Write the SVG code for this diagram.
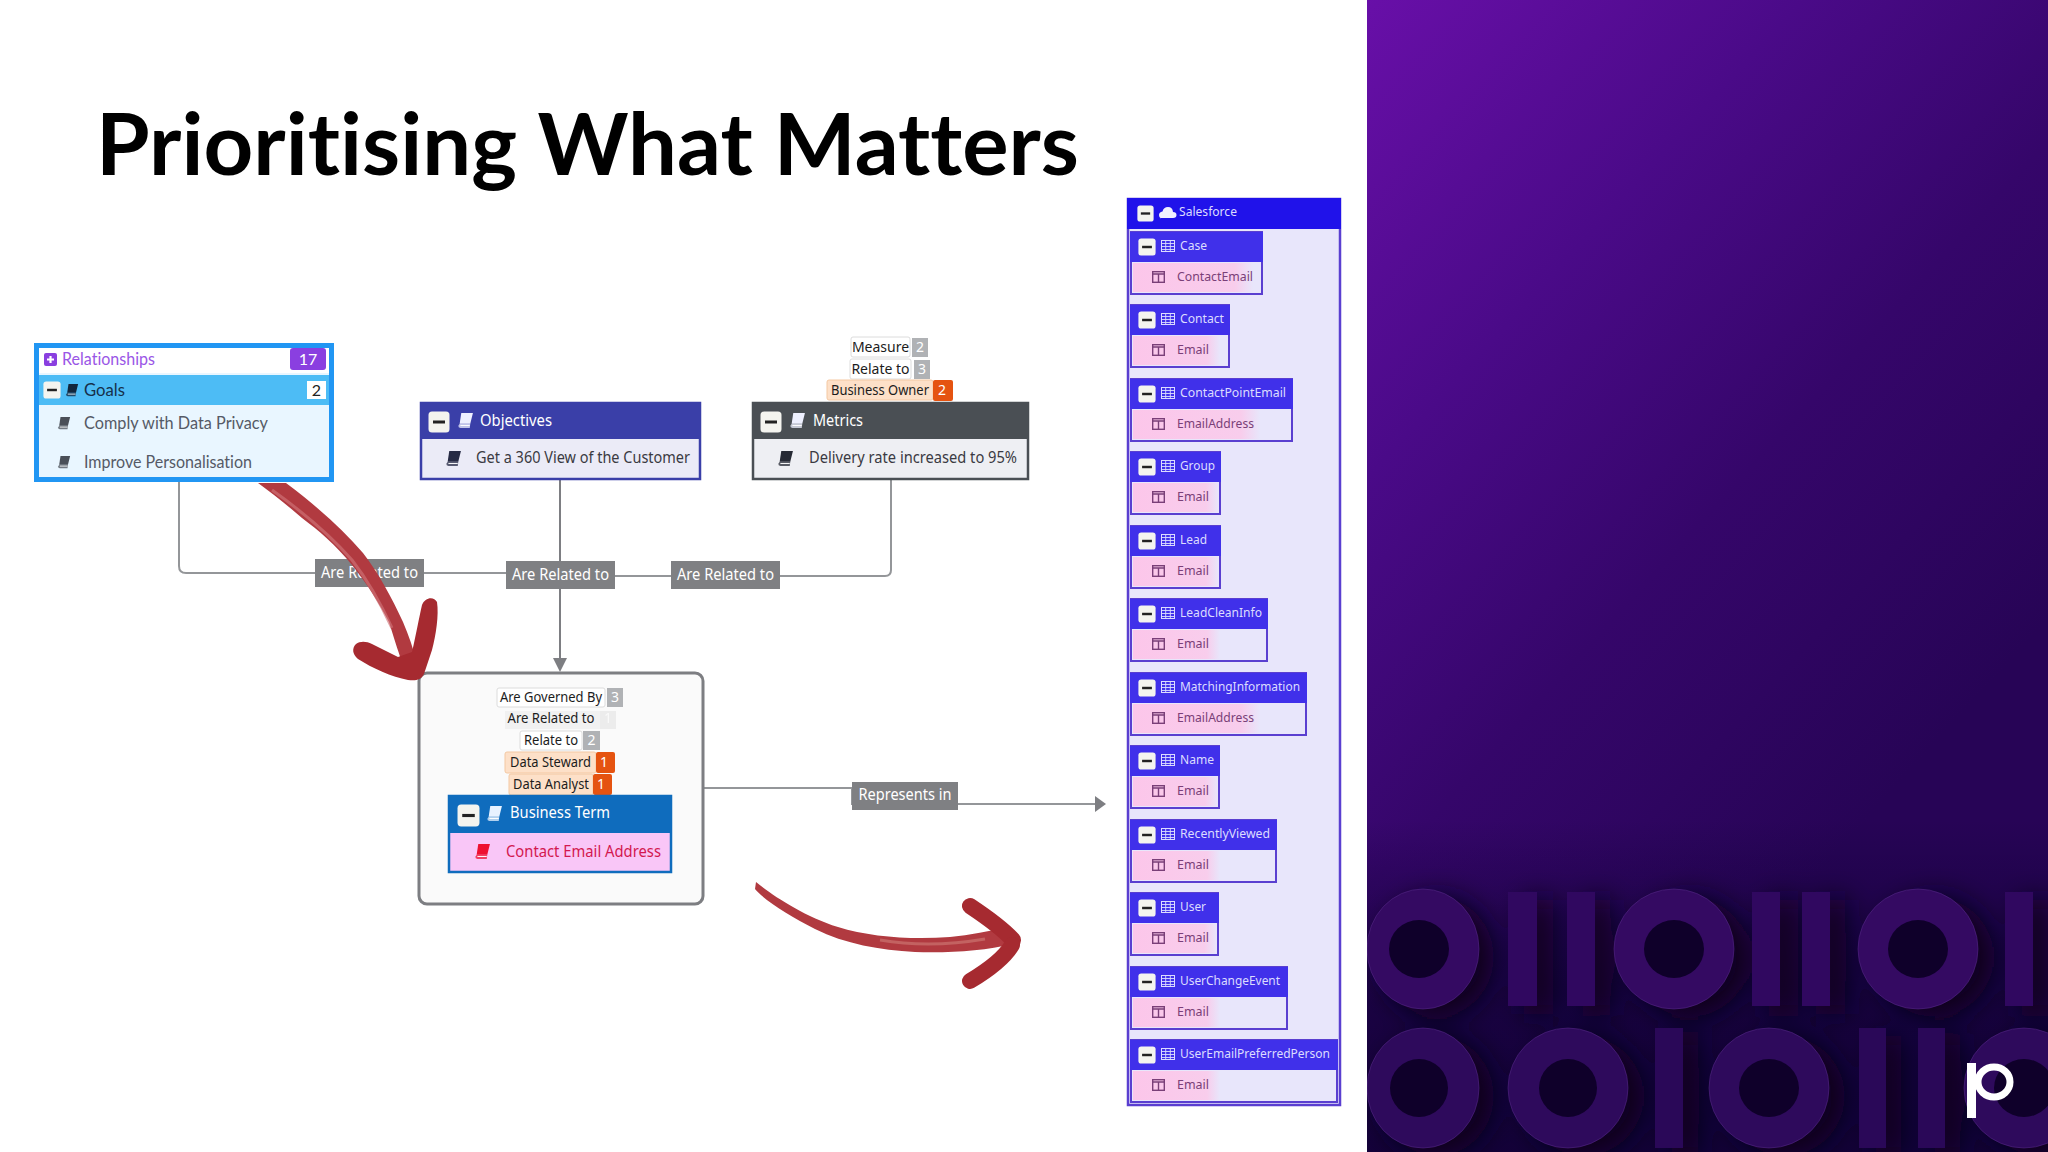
<svg xmlns="http://www.w3.org/2000/svg" width="2048" height="1152" viewBox="0 0 2048 1152">
<style>
text{font-family:"Noto Sans","Liberation Sans",sans-serif;}
.geo{font-family:Lato,"Noto Sans",sans-serif;font-variant-ligatures:none;}
.title{font-size:86px;font-weight:700;fill:#000;}
.line{fill:none;stroke:#949699;stroke-width:2;}
.darkline{fill:none;stroke:#7d7e82;stroke-width:2;}
.lab{fill:#7f8083;}
.labt{font-size:15.5px;fill:#fff;text-anchor:middle;}
.tag{fill:#fff;stroke:#dcdcdc;stroke-width:1;}
.tago{fill:#fde0c8;stroke:#f4c8a2;stroke-width:1;}
.n{fill:#b0b2b5;}
.no{fill:#e55310;}
.tt{font-size:14px;fill:#1c1c1c;text-anchor:middle;}
.nt{font-size:14px;fill:#fff;text-anchor:middle;}
.ht{font-size:15.5px;fill:#fff;}
.bt{font-size:15.5px;fill:#3a3a42;}
.sf-box{fill:#e8e6fb;stroke:#5a3fd0;stroke-width:2;}
.sf-head{fill:#4030ea;}
.sf-h{font-size:12px;fill:#dcdcff;}
.sf-b{font-size:12px;fill:#7a3f78;}
.ring{fill:#340a62;stroke:#5a2c8c;stroke-width:1;stroke-opacity:.5;}
.ring2{fill:#2e0a5c;stroke:#5a2c8c;stroke-width:1;stroke-opacity:.5;}
.bar{fill:#300860;}
.bar2{fill:#2a0858;}
.hole{fill:#0f002a;}
.red{fill:#b13a40;}
.head{fill:#a62a30;}
.reds{fill:none;stroke:#a62a30;stroke-linecap:round;stroke-linejoin:round;}
</style>
<defs>
<linearGradient id="bg" gradientUnits="userSpaceOnUse" x1="1367" y1="0" x2="2048" y2="620">
<stop offset="0" stop-color="#680fa8"/><stop offset="0.35" stop-color="#4a0a88"/><stop offset="0.65" stop-color="#35066a"/><stop offset="1" stop-color="#270456"/>
</linearGradient>
<linearGradient id="bgb" gradientUnits="userSpaceOnUse" x1="0" y1="820" x2="0" y2="1152">
<stop offset="0" stop-color="#0d0030" stop-opacity="0"/><stop offset="0.55" stop-color="#0d0030" stop-opacity="0.65"/><stop offset="1" stop-color="#0d0030" stop-opacity="0.8"/>
</linearGradient>
<linearGradient id="pink" x1="0" y1="0" x2="1" y2="0">
<stop offset="0" stop-color="#fcc6ea"/><stop offset="0.85" stop-color="#f8cdec"/><stop offset="1" stop-color="#f8cdec" stop-opacity="0"/>
</linearGradient>
<filter id="blur" x="-40%" y="-20%" width="200%" height="140%"><feGaussianBlur stdDeviation="14"/></filter>
<clipPath id="pc"><rect x="1367" y="0" width="681" height="1152"/></clipPath>
<symbol id="minus" viewBox="0 0 22 22"><rect x="0.5" y="0.5" width="21" height="21" rx="3.5" fill="#f4f4ef"/><rect x="5" y="9.5" width="12" height="3" fill="#222"/></symbol>
<symbol id="book" viewBox="0 0 16 16"><path d="M4 1H15L12.5 11H2.5Z" fill="currentColor"/><path d="M2.5 11H12.5L12 15H3.2Q1 15 1.3 13Z" fill="currentColor" opacity=".75"/><path d="M3.2 12.7H12" stroke="#fff" stroke-width=".9"/></symbol>
<symbol id="table" viewBox="0 0 14 12"><rect x="0.5" y="0.5" width="13" height="11" fill="none" stroke="#dcdcff" stroke-width="1"/><path d="M0 3.5H14M0 6.5H14M0 9.5H14M4.7 0V12M9.3 0V12" stroke="#dcdcff" stroke-width=".9"/></symbol>
<symbol id="col" viewBox="0 0 13 12"><rect x="0.7" y="0.7" width="11.6" height="10.6" fill="none" stroke="#7a3f78" stroke-width="1.4"/><path d="M0 3H13M6.5 3V12" stroke="#7a3f78" stroke-width="1.4"/></symbol>
</defs>

<rect width="2048" height="1152" fill="#ffffff"/>

<g id="panel" clip-path="url(#pc)">
<rect x="1367" y="0" width="681" height="1152" fill="url(#bg)"/>
<rect x="1367" y="820" width="681" height="332" fill="url(#bgb)"/>
<g filter="url(#blur)" fill="#08001e" transform="translate(16,8)">
<ellipse cx="1421" cy="949" rx="57" ry="60"/><rect x="1508" y="892" width="29" height="114"/><rect x="1567" y="892" width="28" height="114"/><ellipse cx="1674" cy="949" rx="60" ry="60"/><rect x="1752" y="892" width="28" height="114"/><rect x="1802" y="892" width="28" height="114"/><ellipse cx="1918" cy="949" rx="60" ry="60"/><rect x="2005" y="892" width="28" height="114"/>
<ellipse cx="1421" cy="1088" rx="57" ry="60"/><ellipse cx="1568" cy="1088" rx="60" ry="60"/><rect x="1655" y="1028" width="28" height="120"/><ellipse cx="1769" cy="1088" rx="60" ry="60"/><rect x="1859" y="1028" width="27" height="120"/><rect x="1918" y="1028" width="27" height="120"/><ellipse cx="2024" cy="1088" rx="60" ry="60"/>
</g>
<ellipse class="ring" cx="1423" cy="949" rx="56" ry="60"/><ellipse class="hole" cx="1419" cy="949" rx="30" ry="29"/>
<rect class="bar" x="1508" y="892" width="29" height="114"/><rect class="bar" x="1567" y="892" width="28" height="114"/>
<ellipse class="ring" cx="1674" cy="949" rx="60" ry="60"/><ellipse class="hole" cx="1674" cy="949" rx="30" ry="29"/>
<rect class="bar" x="1752" y="892" width="28" height="114"/><rect class="bar" x="1802" y="892" width="28" height="114"/>
<ellipse class="ring" cx="1918" cy="949" rx="60" ry="60"/><ellipse class="hole" cx="1918" cy="949" rx="30" ry="29"/>
<rect class="bar" x="2005" y="892" width="28" height="114"/>
<ellipse class="ring2" cx="1423" cy="1088" rx="56" ry="60"/><ellipse class="hole" cx="1419" cy="1088" rx="29" ry="29"/>
<ellipse class="ring2" cx="1568" cy="1088" rx="60" ry="60"/><ellipse class="hole" cx="1568" cy="1088" rx="29" ry="29"/>
<rect class="bar2" x="1655" y="1028" width="28" height="120"/>
<ellipse class="ring2" cx="1769" cy="1088" rx="60" ry="60"/><ellipse class="hole" cx="1769" cy="1088" rx="30" ry="29"/>
<rect class="bar2" x="1859" y="1028" width="27" height="120"/><rect class="bar2" x="1918" y="1028" width="27" height="120"/>
<ellipse class="ring2" cx="2024" cy="1088" rx="60" ry="60"/><ellipse class="hole" cx="2024" cy="1088" rx="30" ry="29"/>
<g id="logo"><rect x="1967" y="1063" width="9" height="55" fill="#fff"/><ellipse cx="1994" cy="1082" rx="16" ry="15" fill="none" stroke="#fff" stroke-width="7"/></g>
</g>

<text class="title geo" x="96" y="175" textLength="983" lengthAdjust="spacingAndGlyphs">Prioritising What Matters</text>

<g id="connectors">
<path class="line" d="M179 482V566Q179 573 186 573H506"/>
<path class="line" d="M615 576H885Q891 576 891 570V480"/>
<path class="darkline" d="M560 480V660"/>
<path d="M553 658H567L560 672Z" fill="#7d7e82"/>
<path class="line" d="M703 788H852V804H1096"/>
<path d="M1095 796L1106 804L1095 812Z" fill="#7d7e82"/>
<g id="label-1"><rect class="lab" x="315" y="559" width="109" height="28"/><text class="labt" x="369.500" y="577.500" textLength="97" lengthAdjust="spacingAndGlyphs">Are Related to</text></g>
<g id="label-2"><rect class="lab" x="506" y="561" width="109" height="28"/><text class="labt" x="560.500" y="579.500" textLength="97" lengthAdjust="spacingAndGlyphs">Are Related to</text></g>
<g id="label-3"><rect class="lab" x="671" y="561" width="109" height="28"/><text class="labt" x="725.500" y="579.500" textLength="97" lengthAdjust="spacingAndGlyphs">Are Related to</text></g>
<g id="label-4"><rect class="lab" x="852" y="782" width="106" height="28"/><text class="labt" x="905" y="800" textLength="93" lengthAdjust="spacingAndGlyphs">Represents in</text></g>
</g>

<g id="goals">
<rect x="36.500" y="345.500" width="295" height="134" fill="#e9f6ff" stroke="#2196f3" stroke-width="5"/>
<rect x="39" y="348" width="290" height="25" fill="#fff"/>
<rect x="39" y="375" width="290" height="30" fill="#4dbcf5"/>
<rect x="44" y="353" width="13" height="13" rx="2" fill="#8a3fe0"/><path d="M47 359.500H54M50.500 356V363" stroke="#fff" stroke-width="2.200"/>
<text class="geo" x="62" y="365" font-size="17" fill="#9a56e6" textLength="93" lengthAdjust="spacingAndGlyphs">Relationships</text>
<rect x="290" y="348" width="36" height="22" rx="3" fill="#8a3fe0"/><text class="geo" x="308" y="365" font-size="16" fill="#fff" text-anchor="middle">17</text>
<use href="#minus" x="43" y="381" width="18" height="18"/>
<use href="#book" x="65" y="383" width="14" height="14" color="#12263c"/>
<text class="geo" x="84" y="395.500" font-size="17" fill="#16304a" textLength="41" lengthAdjust="spacingAndGlyphs">Goals</text>
<rect x="307" y="381" width="19" height="18" fill="#fff"/><text class="geo" x="316.500" y="396" font-size="16" fill="#222" text-anchor="middle">2</text>
<use href="#book" x="57" y="416" width="14" height="14" color="#4a4f58"/>
<text class="geo" x="84" y="428.500" font-size="17" fill="#555a66" textLength="184" lengthAdjust="spacingAndGlyphs">Comply with Data Privacy</text>
<use href="#book" x="57" y="455" width="14" height="14" color="#4a4f58"/>
<text class="geo" x="84" y="467.500" font-size="17" fill="#555a66" textLength="168" lengthAdjust="spacingAndGlyphs">Improve Personalisation</text>
</g>

<g id="objectives">
<rect x="421" y="403" width="279" height="76" fill="#ebebf7" stroke="#3a3fa8" stroke-width="2.500"/>
<rect x="420" y="402" width="281" height="37" fill="#3a3fa8"/>
<use href="#minus" x="428" y="411" width="22" height="22"/>
<use href="#book" x="457" y="412" width="17" height="17" color="#eef0ff"/>
<text class="ht" x="480" y="426" textLength="72" lengthAdjust="spacingAndGlyphs">Objectives</text>
<use href="#book" x="445" y="450" width="17" height="17" color="#262a44"/>
<text class="bt" x="476" y="463" textLength="214" lengthAdjust="spacingAndGlyphs">Get a 360 View of the Customer</text>
</g>

<g id="metrics">
<rect x="753" y="403" width="275" height="76" fill="#eeeff3" stroke="#4a4f54" stroke-width="2.500"/>
<rect x="752" y="402" width="277" height="37" fill="#4a4f54"/>
<use href="#minus" x="760" y="411" width="22" height="22"/>
<use href="#book" x="789" y="412" width="17" height="17" color="#eef0ff"/>
<text class="ht" x="813" y="426" textLength="50" lengthAdjust="spacingAndGlyphs">Metrics</text>
<use href="#book" x="777" y="450" width="17" height="17" color="#262a34"/>
<text class="bt" x="809" y="463" textLength="208" lengthAdjust="spacingAndGlyphs">Delivery rate increased to 95%</text>
<rect class="tag" x="851" y="337" width="59" height="20" rx="2"/><text class="tt" x="880.500" y="352">Measure</text>
<rect class="n" x="912" y="338" width="16" height="19"/><text class="nt" x="920" y="352">2</text>
<rect class="tag" x="850" y="359" width="61" height="20" rx="2"/><text class="tt" x="880.500" y="374">Relate to</text>
<rect class="n" x="914" y="360" width="16" height="19"/><text class="nt" x="922" y="374">3</text>
<rect class="tago" x="827" y="380" width="106" height="20" rx="2"/><text class="tt" x="880" y="394.500" textLength="98" lengthAdjust="spacingAndGlyphs">Business Owner</text>
<rect class="no" x="933" y="380" width="20" height="21" rx="2"/><text class="nt" x="942" y="395">2</text>
</g>

<g id="business-term">
<rect x="419" y="673" width="284" height="231" rx="8" fill="#fafafa" stroke="#7d7e82" stroke-width="3"/>
<rect class="tag" x="497" y="688" width="108" height="19" rx="2"/><text class="tt" x="551" y="702" textLength="102" lengthAdjust="spacingAndGlyphs">Are Governed By</text>
<rect class="n" x="607" y="688" width="16" height="19"/><text class="nt" x="615" y="702">3</text>
<rect x="505" y="711" width="95" height="18" fill="#f1f1f1"/><text class="tt" x="551" y="723" textLength="87" lengthAdjust="spacingAndGlyphs">Are Related to</text>
<rect x="600" y="711" width="16" height="18" fill="#ececec"/><text class="nt" x="608" y="723" opacity=".7">1</text>
<rect class="tag" x="520" y="731" width="62" height="19" rx="2"/><text class="tt" x="551" y="745" textLength="54" lengthAdjust="spacingAndGlyphs">Relate to</text>
<rect class="n" x="583" y="731" width="17" height="19"/><text class="nt" x="591.500" y="745">2</text>
<rect class="tago" x="505" y="752" width="91" height="21" rx="2"/><text class="tt" x="550.500" y="767" textLength="81" lengthAdjust="spacingAndGlyphs">Data Steward</text>
<rect class="no" x="596" y="752" width="19" height="21" rx="2"/><text class="nt" x="604" y="767">1</text>
<rect class="tago" x="509" y="774" width="84" height="21" rx="2"/><text class="tt" x="551" y="789" textLength="76" lengthAdjust="spacingAndGlyphs">Data Analyst</text>
<rect class="no" x="593" y="774" width="19" height="21" rx="2"/><text class="nt" x="601" y="789">1</text>
<rect x="449" y="796" width="222" height="76" fill="#f9c6f7" stroke="#0f6cbd" stroke-width="2.500"/>
<rect x="448" y="795" width="224" height="38" fill="#0f6cbd"/>
<use href="#minus" x="457" y="804" width="23" height="23"/>
<use href="#book" x="486" y="805" width="17" height="17" color="#e8f2ff"/>
<text class="ht" x="510" y="818" textLength="100" lengthAdjust="spacingAndGlyphs">Business Term</text>
<use href="#book" x="474" y="843" width="17" height="17" color="#ee1030"/>
<text x="506" y="857" font-size="15.500" fill="#d3184f" textLength="155" lengthAdjust="spacingAndGlyphs">Contact Email Address</text>
</g>

<g id="salesforce">
<rect x="1128" y="199" width="212" height="906" fill="#e8e6fb" stroke="#5a3fd0" stroke-width="2.500"/>
<rect x="1127" y="198" width="214" height="31" fill="#2012ea"/>
<use href="#minus" x="1137" y="205" width="17" height="17"/>
<path d="M1161 218h12q3.500 0 3.500-3t-3.500-3q-.5-5-5-5t-5.500 4.500q-3.500 .5-3.500 3.500t2 3.500Z" fill="#f0f0ff"/>
<text class="sf-h" x="1179" y="216" textLength="58" lengthAdjust="spacingAndGlyphs">Salesforce</text>

<g id="sf-case"><rect class="sf-box" x="1131" y="232" width="131" height="62"/><rect class="sf-head" x="1130" y="232" width="133" height="30"/><rect x="1133" y="263" width="120" height="29" fill="url(#pink)"/><use href="#minus" x="1138" y="238" width="18" height="18"/><use href="#table" x="1161" y="240" width="14" height="12"/><text class="sf-h" x="1180" y="250" textLength="27" lengthAdjust="spacingAndGlyphs">Case</text><use href="#col" x="1152" y="271" width="13" height="12"/><text class="sf-b" x="1177" y="281" textLength="76" lengthAdjust="spacingAndGlyphs">ContactEmail</text></g>

<g id="sf-contact"><rect class="sf-box" x="1131" y="305" width="98" height="62"/><rect class="sf-head" x="1130" y="305" width="100" height="30"/><rect x="1133" y="336" width="87" height="29" fill="url(#pink)"/><use href="#minus" x="1138" y="311" width="18" height="18"/><use href="#table" x="1161" y="313" width="14" height="12"/><text class="sf-h" x="1180" y="323" textLength="44" lengthAdjust="spacingAndGlyphs">Contact</text><use href="#col" x="1152" y="344" width="13" height="12"/><text class="sf-b" x="1177" y="354" textLength="32" lengthAdjust="spacingAndGlyphs">Email</text></g>

<g id="sf-contactpointemail"><rect class="sf-box" x="1131" y="379" width="161" height="62"/><rect class="sf-head" x="1130" y="379" width="163" height="30"/><rect x="1133" y="410" width="127" height="29" fill="url(#pink)"/><use href="#minus" x="1138" y="385" width="18" height="18"/><use href="#table" x="1161" y="387" width="14" height="12"/><text class="sf-h" x="1180" y="397" textLength="106" lengthAdjust="spacingAndGlyphs">ContactPointEmail</text><use href="#col" x="1152" y="418" width="13" height="12"/><text class="sf-b" x="1177" y="428" textLength="77" lengthAdjust="spacingAndGlyphs">EmailAddress</text></g>

<g id="sf-group"><rect class="sf-box" x="1131" y="452" width="89" height="62"/><rect class="sf-head" x="1130" y="452" width="91" height="30"/><rect x="1133" y="483" width="86" height="29" fill="url(#pink)"/><use href="#minus" x="1138" y="458" width="18" height="18"/><use href="#table" x="1161" y="460" width="14" height="12"/><text class="sf-h" x="1180" y="470" textLength="35" lengthAdjust="spacingAndGlyphs">Group</text><use href="#col" x="1152" y="491" width="13" height="12"/><text class="sf-b" x="1177" y="501" textLength="32" lengthAdjust="spacingAndGlyphs">Email</text></g>

<g id="sf-lead"><rect class="sf-box" x="1131" y="526" width="89" height="62"/><rect class="sf-head" x="1130" y="526" width="91" height="30"/><rect x="1133" y="557" width="86" height="29" fill="url(#pink)"/><use href="#minus" x="1138" y="532" width="18" height="18"/><use href="#table" x="1161" y="534" width="14" height="12"/><text class="sf-h" x="1180" y="544" textLength="27" lengthAdjust="spacingAndGlyphs">Lead</text><use href="#col" x="1152" y="565" width="13" height="12"/><text class="sf-b" x="1177" y="575" textLength="32" lengthAdjust="spacingAndGlyphs">Email</text></g>

<g id="sf-leadcleaninfo"><rect class="sf-box" x="1131" y="599" width="136" height="62"/><rect class="sf-head" x="1130" y="599" width="138" height="30"/><rect x="1133" y="630" width="87" height="29" fill="url(#pink)"/><use href="#minus" x="1138" y="605" width="18" height="18"/><use href="#table" x="1161" y="607" width="14" height="12"/><text class="sf-h" x="1180" y="617" textLength="82" lengthAdjust="spacingAndGlyphs">LeadCleanInfo</text><use href="#col" x="1152" y="638" width="13" height="12"/><text class="sf-b" x="1177" y="648" textLength="32" lengthAdjust="spacingAndGlyphs">Email</text></g>

<g id="sf-matchinginformation"><rect class="sf-box" x="1131" y="673" width="175" height="62"/><rect class="sf-head" x="1130" y="673" width="177" height="30"/><rect x="1133" y="704" width="127" height="29" fill="url(#pink)"/><use href="#minus" x="1138" y="679" width="18" height="18"/><use href="#table" x="1161" y="681" width="14" height="12"/><text class="sf-h" x="1180" y="691" textLength="120" lengthAdjust="spacingAndGlyphs">MatchingInformation</text><use href="#col" x="1152" y="712" width="13" height="12"/><text class="sf-b" x="1177" y="722" textLength="77" lengthAdjust="spacingAndGlyphs">EmailAddress</text></g>

<g id="sf-name"><rect class="sf-box" x="1131" y="746" width="88" height="62"/><rect class="sf-head" x="1130" y="746" width="90" height="30"/><rect x="1133" y="777" width="85" height="29" fill="url(#pink)"/><use href="#minus" x="1138" y="752" width="18" height="18"/><use href="#table" x="1161" y="754" width="14" height="12"/><text class="sf-h" x="1180" y="764" textLength="34" lengthAdjust="spacingAndGlyphs">Name</text><use href="#col" x="1152" y="785" width="13" height="12"/><text class="sf-b" x="1177" y="795" textLength="32" lengthAdjust="spacingAndGlyphs">Email</text></g>

<g id="sf-recentlyviewed"><rect class="sf-box" x="1131" y="820" width="145" height="62"/><rect class="sf-head" x="1130" y="820" width="147" height="30"/><rect x="1133" y="851" width="87" height="29" fill="url(#pink)"/><use href="#minus" x="1138" y="826" width="18" height="18"/><use href="#table" x="1161" y="828" width="14" height="12"/><text class="sf-h" x="1180" y="838" textLength="90" lengthAdjust="spacingAndGlyphs">RecentlyViewed</text><use href="#col" x="1152" y="859" width="13" height="12"/><text class="sf-b" x="1177" y="869" textLength="32" lengthAdjust="spacingAndGlyphs">Email</text></g>

<g id="sf-user"><rect class="sf-box" x="1131" y="893" width="87" height="62"/><rect class="sf-head" x="1130" y="893" width="89" height="30"/><rect x="1133" y="924" width="84" height="29" fill="url(#pink)"/><use href="#minus" x="1138" y="899" width="18" height="18"/><use href="#table" x="1161" y="901" width="14" height="12"/><text class="sf-h" x="1180" y="911" textLength="26" lengthAdjust="spacingAndGlyphs">User</text><use href="#col" x="1152" y="932" width="13" height="12"/><text class="sf-b" x="1177" y="942" textLength="32" lengthAdjust="spacingAndGlyphs">Email</text></g>

<g id="sf-userchangeevent"><rect class="sf-box" x="1131" y="967" width="156" height="62"/><rect class="sf-head" x="1130" y="967" width="158" height="30"/><rect x="1133" y="998" width="87" height="29" fill="url(#pink)"/><use href="#minus" x="1138" y="973" width="18" height="18"/><use href="#table" x="1161" y="975" width="14" height="12"/><text class="sf-h" x="1180" y="985" textLength="100" lengthAdjust="spacingAndGlyphs">UserChangeEvent</text><use href="#col" x="1152" y="1006" width="13" height="12"/><text class="sf-b" x="1177" y="1016" textLength="32" lengthAdjust="spacingAndGlyphs">Email</text></g>

<g id="sf-useremailpreferredperson"><rect class="sf-box" x="1131" y="1040" width="206" height="62"/><rect class="sf-head" x="1130" y="1040" width="208" height="30"/><rect x="1133" y="1071" width="87" height="29" fill="url(#pink)"/><use href="#minus" x="1138" y="1046" width="18" height="18"/><use href="#table" x="1161" y="1048" width="14" height="12"/><text class="sf-h" x="1180" y="1058" textLength="150" lengthAdjust="spacingAndGlyphs">UserEmailPreferredPerson</text><use href="#col" x="1152" y="1079" width="13" height="12"/><text class="sf-b" x="1177" y="1089" textLength="32" lengthAdjust="spacingAndGlyphs">Email</text></g>
</g>

<g id="hand-arrow-1">
<path class="red" d="M258 483H286C318 507 343 530 363 553C378 572 392 598 403 622C409 636 413 648 416 660L402 662C397 648 394 638 389 622C379 603 368 585 352 565C336 545 318 530 302 518C287 505 272 493 258 483Z"/>
<path class="head" d="M356 644C360 641 366 641 372 644L398 657L412 652C416 635 419 618 422 605C425 597 434 596 437 602C439 615 436 635 432 650L424 674C421 680 416 681 408 680C392 677 372 668 358 659C352 654 352 648 356 644Z"/>
<path d="M272 490C300 510 330 535 352 560C366 578 380 602 392 628" fill="none" stroke="#d07378" stroke-width="3" opacity=".65"/>
</g>
<g id="hand-arrow-2">
<path class="red" d="M756 882C772 895 803 916 838 927C870 937 912 940 950 937C970 935 990 931 1008 927L1012 944C985 951 950 953 915 952C880 950 845 944 815 929C790 916 764 900 755 889Z"/>
<path class="reds" stroke-width="16" d="M970 906C985 916 1003 929 1013 940"/>
<path class="reds" stroke-width="16" d="M1012 945C1003 960 985 972 970 981"/>
<path d="M880 940C915 946 950 945 985 939" fill="none" stroke="#cf7d78" stroke-width="3" opacity=".6"/>
</g>
</svg>
